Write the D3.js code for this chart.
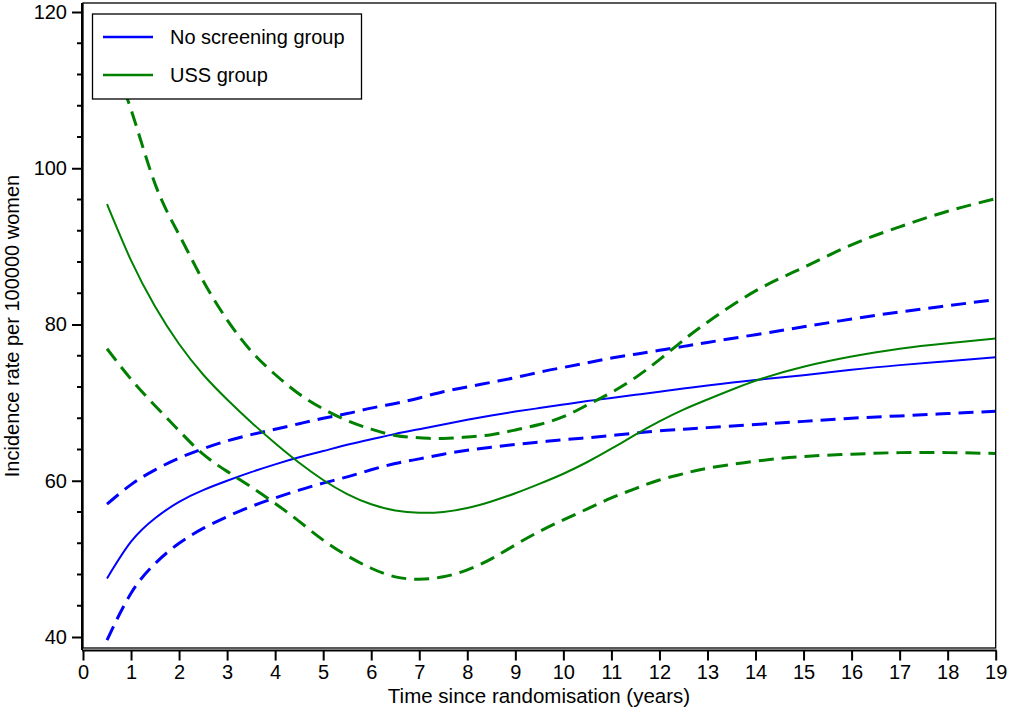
<!DOCTYPE html>
<html>
<head>
<meta charset="utf-8">
<script src="https://cdn.jsdelivr.net/npm/d3@7"></script>
<style>
  body { margin: 0; background: #fff; }
  text { font-family: "Liberation Sans", Arial, sans-serif; fill: #000; }
</style>
</head>
<body>
<script>
// years since randomisation
const years = [0.5, 1, 1.5, 2, 2.5, 3, 3.5, 4, 4.5, 5, 5.5, 6, 6.5, 7, 7.5, 8, 8.5,
               9, 9.5, 10, 10.5, 11, 11.5, 12, 12.5, 13, 14, 15, 16, 17, 18, 19];

// no screening group: estimate, upper and lower limits
const noScreen = [47.5, 52.2, 55.2, 57.3, 58.8, 60.0, 61.1, 62.1, 63.0, 63.8, 64.6, 65.3, 66.0, 66.6, 67.2, 67.8, 68.35,
                  68.85, 69.3, 69.75, 70.2, 70.6, 71.0, 71.4, 71.8, 72.2, 72.9, 73.5, 74.2, 74.8, 75.3, 75.8];
const noScreenHi = [57.0, 59.5, 61.4, 62.9, 64.1, 65.1, 65.9, 66.6, 67.3, 68.0, 68.6, 69.3, 69.9, 70.6, 71.4, 72.0, 72.6,
                    73.2, 73.9, 74.5, 75.1, 75.7, 76.2, 76.7, 77.2, 77.7, 78.7, 79.7, 80.7, 81.6, 82.4, 83.2];
const noScreenLo = [39.6, 45.6, 49.4, 52.0, 53.9, 55.4, 56.7, 57.8, 58.8, 59.7, 60.5, 61.4, 62.2, 62.8, 63.4, 63.9, 64.3,
                    64.65, 64.95, 65.25, 65.5, 65.8, 66.1, 66.4, 66.6, 66.8, 67.2, 67.6, 68.0, 68.3, 68.6, 68.9];

// USS group
const uss = [95.4, 88.2, 82.3, 77.5, 73.6, 70.4, 67.5, 64.8, 62.3, 60.1, 58.3, 57.0, 56.2, 55.9, 56.0, 56.5, 57.35,
             58.4, 59.6, 60.9, 62.4, 64.1, 65.9, 67.6, 69.1, 70.4, 72.8, 74.6, 75.9, 76.9, 77.6, 78.2];
const ussHi = [115.5, 107.5, 98.0, 91.5, 85.6, 80.6, 76.6, 73.6, 71.1, 69.2, 67.7, 66.6, 65.8, 65.5, 65.4, 65.6, 65.9,
               66.5, 67.2, 68.2, 69.7, 71.3, 73.2, 75.5, 78.0, 80.3, 84.3, 87.3, 90.2, 92.5, 94.5, 96.1];
const ussLo = [76.9, 73.0, 69.6, 66.4, 63.4, 61.2, 59.2, 57.1, 54.8, 52.4, 50.4, 48.8, 47.7, 47.4, 47.7, 48.6, 50.0,
               51.8, 53.5, 55.0, 56.4, 57.8, 59.0, 60.1, 60.9, 61.6, 62.5, 63.1, 63.4, 63.6, 63.6, 63.5];

const xTicks = d3.range(0, 20);
const yTicks = [40, 60, 80, 100, 120];
const legendLabels = ["No screening group", "USS group"];

const width = 1009, height = 708;

let svg = d3.select('body')
      .append('svg')
      .attr('width', width)
      .attr('height', height);

let x = d3.scaleLinear().domain([0, 19]).range([83, 995.7]);
let y = d3.scaleLinear().domain([40, 120]).range([637, 12]);

svg.append('clipPath').attr('id', 'plot')
  .append('rect')
  .attr('x', 83).attr('y', 3)
  .attr('width', 912.7).attr('height', 645);

//* draw one curve from the years array and a series *//
function draw(values, colour, dashed){
  let lineDrawer = d3.line()
        .x((d, i) => x(years[i]))
        .y(d => y(d))
        .curve(d3.curveNatural);

  svg.append('path')
    .attr('clip-path', 'url(#plot)')
    .style('fill', 'none')
    .style('stroke', colour)
    .style('stroke-width', dashed ? 3 : 2)
    .style('stroke-dasharray', dashed ? '15,8' : null)
    .attr('d', lineDrawer(values));
}

draw(noScreenHi, '#0000ff', true);
draw(noScreenLo, '#0000ff', true);
draw(noScreen, '#0000ff', false);
draw(ussHi, '#008000', true);
draw(ussLo, '#008000', true);
draw(uss, '#008000', false);

// plot frame
svg.append('rect')
  .attr('x', 83).attr('y', 3)
  .attr('width', 912.7).attr('height', 645)
  .style('fill', 'none')
  .style('stroke', '#000')
  .style('stroke-width', 1.3);

// y axis with minor ticks every 4
let yAxis = d3.axisLeft(y).tickValues(yTicks).tickSize(10).tickPadding(5).tickFormat(d3.format('d'));
let yg = svg.append('g').attr('transform', 'translate(82,0)').call(yAxis);
yg.select('.domain').attr('d', 'M0,3V650').style('stroke-width', 2);
yg.selectAll('.tick line').style('stroke-width', 2);
yg.selectAll('.tick text').style('font-size', '20px');
yg.selectAll('.minor')
  .data(d3.range(40, 121, 4).filter(v => v % 20 !== 0))
  .enter().append('line')
  .attr('x1', -5).attr('x2', 0)
  .attr('y1', d => y(d)).attr('y2', d => y(d))
  .style('stroke', '#000').style('stroke-width', 2);

// x axis, sits just below the frame
let xAxis = d3.axisBottom(x).tickValues(xTicks).tickSize(10).tickPadding(4).tickFormat(d3.format('d'));
let xg = svg.append('g').attr('transform', 'translate(0,650.5)').call(xAxis);
xg.select('.domain').attr('d', 'M82,0H996.7').style('stroke-width', 2);
xg.selectAll('.tick line').style('stroke-width', 2);
xg.selectAll('.tick text').style('font-size', '20px');

svg.append('text')
  .attr('x', 539).attr('y', 703)
  .attr('text-anchor', 'middle')
  .style('font-size', '20.5px')
  .text('Time since randomisation (years)');

svg.append('text')
  .attr('transform', 'translate(19,326) rotate(-90)')
  .attr('text-anchor', 'middle')
  .style('font-size', '20px')
  .text('Incidence rate per 100000 women');

// legend
let legend = svg.append('g');
legend.append('rect')
  .attr('x', 92.5).attr('y', 14)
  .attr('width', 269).attr('height', 85)
  .style('fill', '#fff')
  .style('stroke', '#000')
  .style('stroke-width', 1.3);

let entries = legend.selectAll('.entry')
  .data(legendLabels)
  .enter().append('g')
  .attr('transform', (d, i) => `translate(0,${37 + i * 38})`);

entries.append('line')
  .attr('x1', 103).attr('x2', 153)
  .attr('y1', 0).attr('y2', 0)
  .style('stroke', (d, i) => i === 0 ? '#0000ff' : '#008000')
  .style('stroke-width', 2.5);

entries.append('text')
  .attr('x', 170).attr('y', 7)
  .style('font-size', '20px')
  .text(d => d);
</script>
</body>
</html>
